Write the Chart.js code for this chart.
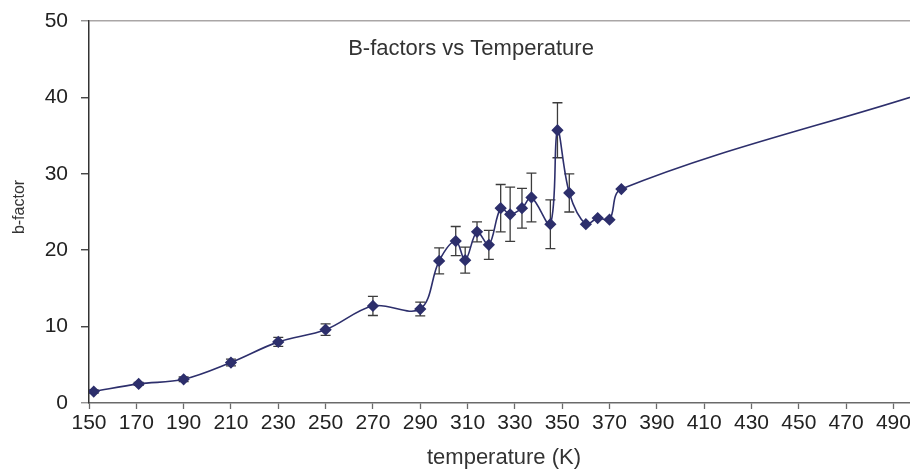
<!DOCTYPE html>
<html>
<head>
<meta charset="utf-8">
<script src="https://cdn.jsdelivr.net/npm/chart.js@4/dist/chart.umd.min.js"></script>
<style>
  html, body { margin: 0; padding: 0; background: #fff; overflow: hidden; }
  canvas { display: block; }
</style>
</head>
<body>
<canvas id="myChart" width="910" height="469"></canvas>
<script>
// temperature (K), b-factor, error (+/-)
const temps    = [152, 171, 190, 210, 230, 250, 270, 290, 298, 305, 309, 314, 319, 324, 328, 333, 337, 345, 348, 353, 360, 365, 370, 375, 500];
const bfactors = [1.5, 2.5, 3.1, 5.3, 8.0, 9.6, 12.7, 12.3, 18.6, 21.2, 18.7, 22.4, 20.7, 25.5, 24.7, 25.5, 26.9, 23.4, 35.7, 27.5, 23.4, 24.2, 24.0, 28.0, 40.3];
const errors   = [0.2, 0.2, 0.3, 0.45, 0.6, 0.75, 1.25, 0.9, 1.7, 1.9, 1.7, 1.3, 1.9, 3.1, 3.55, 2.6, 3.2, 3.2, 3.6, 2.5, 0, 0, 0, 0, 0];
const xTicks = [150, 170, 190, 210, 230, 250, 270, 290, 310, 330, 350, 370, 390, 410, 430, 450, 470, 490];
const yTicks = [0, 10, 20, 30, 40, 50];

const navy = '#2d2f6c';
const font = 'Liberation Sans, Arial, sans-serif';

const errorBars = {
    id: 'errorBars',
    beforeDatasetsDraw(chart) {
        const {ctx, scales: {x, y}} = chart;
        ctx.save();
        ctx.strokeStyle = '#3c3c3c';
        ctx.lineWidth = 1.3;
        errors.forEach((e, i) => {
            if (!e) return;
            const px = x.getPixelForValue(temps[i]);
            const top = y.getPixelForValue(bfactors[i] + e);
            const bot = y.getPixelForValue(bfactors[i] - e);
            ctx.beginPath();
            ctx.moveTo(px, top); ctx.lineTo(px, bot);
            ctx.moveTo(px - 5, top); ctx.lineTo(px + 5, top);
            ctx.moveTo(px - 5, bot); ctx.lineTo(px + 5, bot);
            ctx.stroke();
        });
        ctx.restore();
    }
};

const texts = {
    id: 'texts',
    afterDraw(chart) {
        const ctx = chart.ctx;
        ctx.save();
        ctx.fillStyle = '#333';
        ctx.textAlign = 'center';
        ctx.textBaseline = 'alphabetic';
        ctx.font = '22px ' + font;
        ctx.fillText('B-factors vs Temperature', 471, 55);
        ctx.font = '22px ' + font;
        ctx.fillText('temperature (K)', 504, 464);
        ctx.translate(24, 207);
        ctx.rotate(-Math.PI / 2);
        ctx.font = '16px ' + font;
        ctx.fillText('b-factor', 0, 0);
        ctx.restore();
    }
};

const data = {
    datasets: [{
        label: 'b-factor',
        data: temps.map((t, i) => ({x: t, y: bfactors[i]})),
        borderColor: navy,
        backgroundColor: navy,
        borderWidth: 1.6,
        tension: 0.35,
        pointStyle: 'rectRot',
        pointRadius: temps.map(t => t > 497 ? 0 : 5),
        pointHoverRadius: 5,
        pointBackgroundColor: navy,
        pointBorderColor: navy
    }]
};

const config = {
    type: 'line',
    data: data,
    options: {
        responsive: false,
        animation: false,
        layout: { autoPadding: false, padding: { top: 21, right: 0, bottom: 0, left: 0 } },
        plugins: {
            legend: { display: false },
            tooltip: { enabled: false }
        },
        scales: {
            x: {
                type: 'linear',
                min: 150,
                max: 497,
                afterBuildTicks: scale => { scale.ticks = xTicks.map(v => ({value: v})); },
                afterFit: scale => {
                    scale.height = 66;
                    scale.paddingLeft = 0; scale.paddingRight = 0;
                },
                border: { color: '#6a6a6a', width: 1.5 },
                grid: { drawOnChartArea: false, tickLength: 6, tickColor: '#6a6a6a', tickWidth: 1.3 },
                ticks: { color: '#222', padding: 2, maxRotation: 0, font: { size: 21, family: font } }
            },
            y: {
                min: 0,
                max: 50,
                afterBuildTicks: scale => { scale.ticks = yTicks.map(v => ({value: v})); },
                afterFit: scale => {
                    scale.width = 89;
                    scale.paddingTop = 0; scale.paddingBottom = 0;
                },
                border: { color: '#333', width: 1.5 },
                grid: {
                    tickLength: 8,
                    color: ctx => ctx.tick && ctx.tick.value === 50 ? '#aaa6a6' : 'rgba(0,0,0,0)',
                    lineWidth: 1.5,
                    tickColor: ctx => ctx.tick && (ctx.tick.value === 50 || ctx.tick.value === 0) ? '#8a8888' : '#333',
                    tickWidth: 1.3
                },
                ticks: { color: '#222', padding: 13, font: { size: 21, family: font } }
            }
        }
    },
    plugins: [errorBars, texts]
};

var myChart = new Chart(document.getElementById('myChart'), config);
</script>
</body>
</html>
